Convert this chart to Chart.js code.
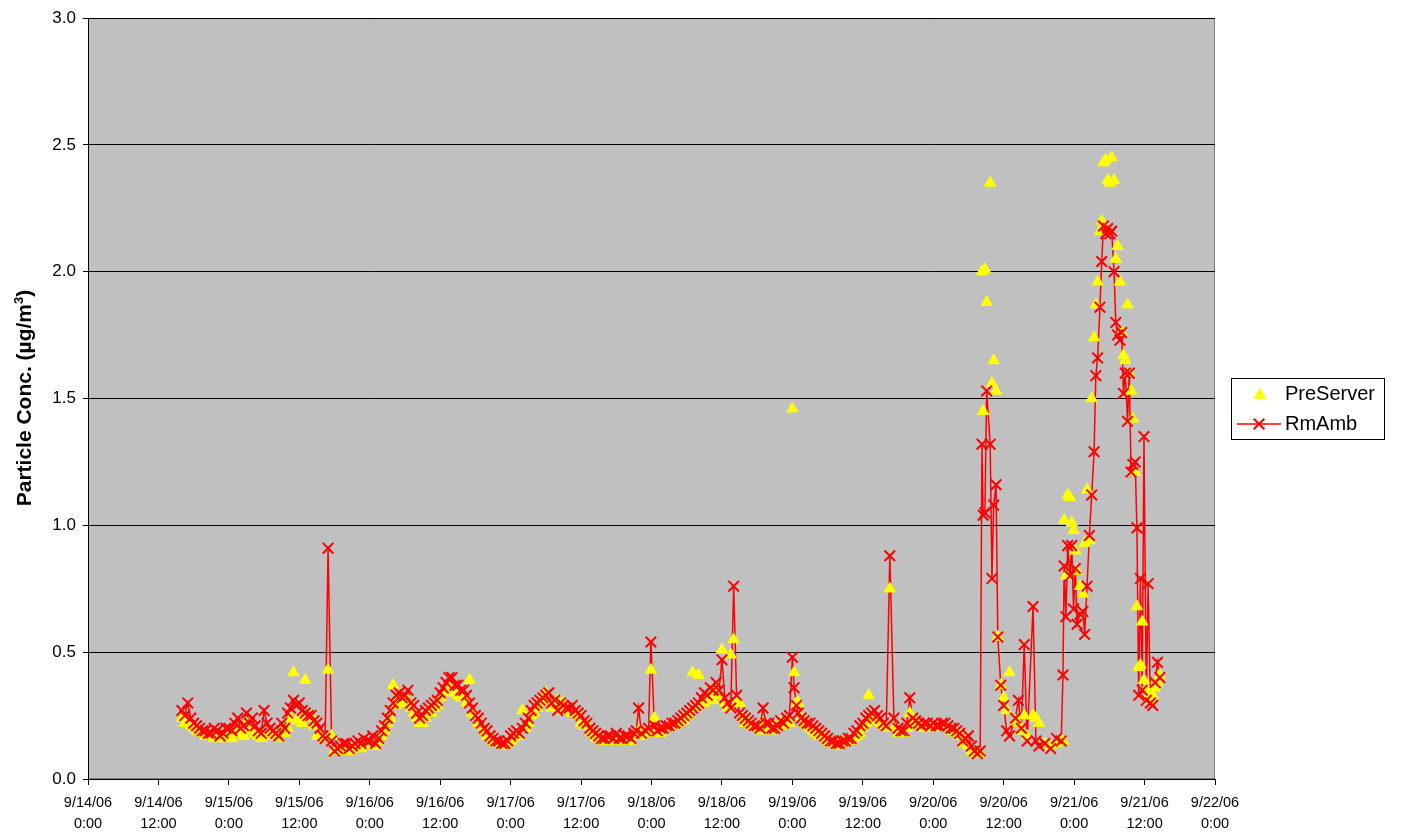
<!DOCTYPE html>
<html lang="en">
<head>
  <meta charset="UTF-8">
  <title>Particle Conc.</title>
  <script src="https://cdn.jsdelivr.net/npm/chart.js"></script>
  <style>
    html, body { margin: 0; padding: 0; background: #fff; }
    #wrap { width: 1403px; height: 834px; }
  </style>
</head>
<body>
  <div id="wrap"><canvas id="myChart" width="1403" height="834"></canvas></div>

  <script>
    // hours since 9/14/06 0:00
    const hours = [
      16, 16.5, 17, 17.5, 18, 18.5, 19, 19.5, 20, 20.5, 21, 21.5,
      22, 22.5, 23, 23.5, 24, 24.5, 25, 25.5, 26, 26.5, 27, 27.5,
      28, 28.5, 29, 29.5, 30, 30.5, 31, 31.5, 32, 32.5, 33, 33.5,
      34, 34.5, 35, 35.5, 36, 36.5, 37, 37.5, 38, 38.5, 39, 39.5,
      40, 40.4, 40.9, 41.5,
      42, 42.5, 43, 43.5, 44, 44.5, 45, 45.5, 46, 46.5, 47, 47.5,
      48, 48.5, 49, 49.5, 50, 50.5, 51, 51.5, 52, 52.5, 53, 53.5,
      54, 54.5, 55, 55.5, 56, 56.5, 57, 57.5, 58, 58.5, 59, 59.5,
      60, 60.5, 61, 61.5, 62, 62.5, 63, 63.5, 64, 64.5, 65, 65.5,
      66, 66.5, 67, 67.5, 68, 68.5, 69, 69.5, 70, 70.5, 71, 71.5,
      72, 72.5, 73, 73.5, 74, 74.5, 75, 75.5, 76, 76.5, 77, 77.5,
      78, 78.5, 79, 79.5, 80, 80.5, 81, 81.5, 82, 82.5, 83, 83.5,
      84, 84.5, 85, 85.5, 86, 86.5, 87, 87.5, 88, 88.5, 89, 89.5,
      90, 90.5, 91, 91.5, 92, 92.5, 93, 93.4, 93.8, 94.3, 95, 95.5,
      95.9, 96.5, 97, 97.5, 98, 98.5, 99, 99.5, 100, 100.5, 101, 101.5,
      102, 102.5, 103, 103.5, 104, 104.5, 105, 105.5, 106, 106.5, 107, 107.5,
      108, 108.5, 109, 109.5, 110, 110.5, 111, 111.5, 112, 112.5, 113, 113.5,
      114, 114.5, 115, 115.5, 116, 116.5, 117, 117.5, 118, 118.5, 119, 119.5,
      120, 120.3, 120.7, 121, 121.5, 122, 122.5, 123, 123.5, 124, 124.5, 125,
      125.5, 126, 126.5, 127, 127.5, 128, 128.5, 129, 129.5, 130, 130.5, 131,
      131.5, 132, 132.5, 133, 133.5, 134, 134.5, 135, 135.5, 136, 136.6, 137.3,
      138, 138.5, 139, 139.5, 140, 140.5, 141, 141.5, 142, 142.5, 143, 143.5,
      144, 144.5, 145, 145.5, 146, 146.5, 147, 147.5, 148, 148.5, 149, 149.5,
      150, 150.5, 151, 151.5, 152,
      152.3, 152.5, 152.8, 153.1, 153.7, 154.0, 154.3, 154.7, 155.0, 155.5, 156, 156.5, 157,
      158, 158.5, 159, 159.5, 160, 161, 161.5, 162, 163, 164, 165, 165.8, 166.1, 166.3, 166.6, 166.9, 167.3, 167.6, 167.9,
      168.2, 168.5, 169.0, 169.5, 169.8, 170.2, 170.6, 171.0, 171.4, 171.7, 172.0, 172.4, 172.7, 173.0, 173.4, 173.7, 174.1, 174.4, 174.8,
      175.1, 175.4, 175.8, 176.1, 176.4, 176.7, 177.1, 177.4, 177.7, 178.0, 178.4, 178.7, 179.0, 179.3, 179.6, 179.9,
      180.3, 180.6, 181.0, 181.4, 181.8, 182.2, 182.6
    ];

    const preServer = [
      .24, .22, .22, .21, .20, .19, .19, .18, .17, .17, .17, .16,
      .16, .16, .17, .17, .17, .16, .18, .18, .18, .17, .22, .19,
      .20, .18, .17, .16, .17, .17, .18, .17, .17, .16, .19, .18,
      .20, .24, .42, .23, .24, .22, .39, .24, .25, .21, .17, .17,
      .16, .16, .43, .17,
      .11, .11, .11, .12, .12, .11, .12, .12, .13, .12, .14, .13,
      .14, .14, .13, .15, .17, .19, .22, .24, .37, .29, .32, .30,
      .32, .31, .28, .26, .24, .22, .22, .24, .27, .26, .28, .29,
      .32, .34, .36, .37, .36, .34, .33, .32, .33, .30, .39, .26,
      .25, .22, .21, .19, .17, .16, .15, .14, .14, .13, .13, .14,
      .15, .16, .18, .17, .27, .20, .22, .25, .26, .28, .30, .31,
      .34, .31, .28, .29, .31, .27, .30, .27, .27, .26, .26, .25,
      .22, .21, .21, .19, .18, .16, .16, .15, .15, .15, .16, .15,
      .16, .15, .15, .16, .16, .15, .17, .17, .19, .17, .18, .18,
      .43, .24, .19, .18, .19, .20, .20, .21, .21, .22, .23, .23,
      .25, .26, .42, .28, .41, .30, .30, .31, .33, .31, .35, .33,
      .51, .30, .28, .49, .55, .30, .30, .24, .22, .22, .21, .20,
      .20, .19, .22, .20, .20, .19, .21, .20, .22, .21, .23, .22,
      1.46, .42, .30, .30, .24, .22, .21, .20, .19, .18, .17, .17,
      .16, .15, .14, .14, .13, .14, .14, .15, .15, .15, .16, .17,
      .18, .20, .22, .33, .24, .25, .23, .22, .21, .20, .75, .20,
      .18, .18, .18, .20, .26, .22, .22, .21, .20, .21, .21, .20,
      .20, .20, .20, .21, .21, .20, .19, .19, .18, .17, .14, .15,
      .13, .11, .10, .10, .10,
      2.00, 1.45, 2.01, 1.88, 2.35, 1.56, 1.65, 1.53, .56, .37, .32, .27, .42,
      .23, .22, .19, .25, .17, .25, .24, .22, .14, .13, .14, .15, .15, 1.02, .80, 1.12, 1.11, 1.01, .98,
      .90, .82, .76, .73, .93, 1.14, .94, 1.50, 1.74, 1.87, 1.96, 2.16, 2.20, 2.43, 2.44, 2.36, 2.35, 2.45, 2.36,
      2.05, 2.10, 1.96, 1.76, 1.67, 1.65, 1.87, 1.60, 1.53, 1.42, 1.21, .68, .44, .45, .62, .39,
      .36, .33, .31, .33, .36, .38, .41
    ];

    const rmAmb = [
      .27, .25, .30, .24, .22, .21, .20, .19, .19, .18, .18, .20,
      .19, .17, .18, .20, .20, .19, .22, .24, .20, .21, .26, .22,
      .24, .21, .19, .18, .27, .22, .20, .19, .18, .17, .22, .20,
      .26, .28, .31, .29, .30, .27, .26, .25, .25, .23, .22, .20,
      .17, .16, .91, .15,
      .11, .12, .13, .14, .14, .12, .13, .14, .15, .14, .16, .15,
      .15, .17, .14, .16, .19, .21, .24, .27, .30, .33, .34, .32,
      .33, .35, .30, .29, .26, .24, .25, .27, .28, .29, .30, .31,
      .34, .36, .38, .40, .40, .37, .37, .35, .35, .33, .30, .28,
      .25, .24, .22, .20, .19, .17, .16, .15, .15, .14, .14, .15,
      .17, .18, .19, .18, .20, .22, .24, .27, .29, .30, .31, .32,
      .33, .34, .30, .31, .27, .30, .29, .28, .28, .29, .27, .26,
      .25, .23, .22, .20, .19, .18, .17, .16, .16, .17, .17, .16,
      .18, .16, .16, .17, .17, .16, .18, .19, .28, .18, .19, .20,
      .54, .21, .19, .20, .20, .21, .21, .22, .22, .23, .24, .25,
      .26, .27, .28, .29, .30, .32, .34, .33, .36, .35, .38, .35,
      .47, .32, .30, .28, .76, .33, .26, .25, .24, .23, .22, .21,
      .21, .20, .28, .22, .22, .20, .20, .21, .23, .22, .24, .25,
      .48, .36, .29, .26, .24, .23, .22, .22, .21, .20, .19, .18,
      .17, .16, .15, .15, .14, .14, .15, .15, .16, .16, .18, .19,
      .21, .22, .24, .25, .26, .27, .25, .24, .22, .21, .88, .24,
      .20, .19, .19, .22, .32, .24, .23, .22, .21, .22, .22, .21,
      .22, .21, .21, .22, .22, .21, .20, .20, .19, .18, .15, .16,
      .17, .13, .11, .10, .11,
      1.32, 1.04, 1.05, 1.53, 1.32, .79, 1.08, 1.16, .56, .37, .29, .19, .17,
      .24, .31, .20, .53, .15, .68, .15, .13, .14, .12, .16, .15, .41, .84, .64, .92, .80, .92, .67,
      .83, .61, .65, .66, .57, .76, .96, 1.12, 1.29, 1.59, 1.66, 1.86, 2.04, 2.18, 2.15, 2.17, 2.15, 2.16, 2.00,
      1.80, 1.75, 1.73, 1.76, 1.52, 1.60, 1.41, 1.60, 1.21, 1.24, 1.25, .99, .33, .79, .35, 1.35,
      .31, .77, .30, .29, .38, .46, .40
    ];

    const dayLabels = ['9/14/06', '9/15/06', '9/16/06', '9/17/06', '9/18/06',
                       '9/19/06', '9/20/06', '9/21/06', '9/22/06'];
    const timeLabels = ['0:00', '12:00'];

    const FONT = "'Liberation Sans', Arial, sans-serif";

    const ptsPre = hours.map((h, i) => ({ x: h, y: preServer[i] }));
    const ptsRm = hours.map((h, i) => ({ x: h, y: rmAmb[i] }));

    // grey plot area like the excel chart
    const plotBg = {
      id: 'plotBg',
      beforeDraw(chart) {
        const { ctx, chartArea: a } = chart;
        ctx.save();
        ctx.fillStyle = '#c0c0c0';
        ctx.fillRect(a.left, a.top, a.width, a.height);
        ctx.strokeStyle = '#808080';
        ctx.lineWidth = 1;
        ctx.strokeRect(a.left + 0.5, a.top + 0.5, a.width - 1, a.height - 1);
        ctx.restore();
      }
    };

    // y title with a real superscript 3
    const yTitle = {
      id: 'yTitle',
      afterDraw(chart) {
        const ctx = chart.ctx;
        const big = 'bold 21px ' + FONT;
        const small = 'bold 13px ' + FONT;
        const p1 = 'Particle Conc. (µg/m', p2 = '3', p3 = ')';
        ctx.save();
        ctx.font = big;
        const w1 = ctx.measureText(p1).width, w3 = ctx.measureText(p3).width;
        ctx.font = small;
        const w2 = ctx.measureText(p2).width;
        const total = w1 + w2 + w3;
        ctx.translate(31, 398);
        ctx.rotate(-Math.PI / 2);
        ctx.fillStyle = '#000';
        ctx.textBaseline = 'alphabetic';
        let x = -total / 2;
        ctx.font = big;
        ctx.fillText(p1, x, 0);
        x += w1;
        ctx.font = small;
        ctx.fillText(p2, x, -8);
        x += w2;
        ctx.font = big;
        ctx.fillText(p3, x, 0);
        ctx.restore();
      }
    };

    // legend with a box, line+marker for RmAmb
    const boxLegend = {
      id: 'boxLegend',
      afterDraw(chart) {
        const ctx = chart.ctx;
        const bx = 1231, by = 378, bw = 153, bh = 61;
        ctx.save();
        ctx.fillStyle = '#ffffff';
        ctx.fillRect(bx, by, bw, bh);
        ctx.strokeStyle = '#000000';
        ctx.lineWidth = 1;
        ctx.strokeRect(bx + 0.5, by + 0.5, bw, bh);

        ctx.fillStyle = '#ffff00';
        ctx.strokeStyle = '#ffff00';
        Chart.helpers.drawPoint(ctx, {
          pointStyle: 'triangle', radius: 6.5, rotation: 0, borderWidth: 1
        }, 1260, 395);

        ctx.strokeStyle = '#ff0000';
        ctx.lineWidth = 1.5;
        ctx.beginPath();
        ctx.moveTo(1237, 424);
        ctx.lineTo(1281, 424);
        ctx.stroke();
        ctx.lineWidth = 2;
        Chart.helpers.drawPoint(ctx, {
          pointStyle: 'crossRot', radius: 7.5, rotation: 0, borderWidth: 2
        }, 1259, 424);

        ctx.fillStyle = '#000000';
        ctx.font = '20px ' + FONT;
        ctx.textBaseline = 'middle';
        ctx.fillText('PreServer', 1285, 394);
        ctx.fillText('RmAmb', 1285, 424);
        ctx.restore();
      }
    };

    const ctx = document.getElementById('myChart').getContext('2d');
    const myChart = new Chart(ctx, {
      type: 'scatter',
      data: {
        datasets: [
          {
            label: 'RmAmb line',
            data: ptsRm,
            showLine: true,
            borderColor: '#ff0000',
            borderWidth: 1.5,
            pointRadius: 0,
            order: 3
          },
          {
            label: 'PreServer',
            data: ptsPre,
            pointStyle: 'triangle',
            pointRadius: 6.5,
            backgroundColor: '#ffff00',
            borderColor: '#ffff00',
            borderWidth: 1,
            order: 2
          },
          {
            label: 'RmAmb',
            data: ptsRm,
            pointStyle: 'crossRot',
            pointRadius: 7.5,
            borderColor: '#ff0000',
            backgroundColor: '#ff0000',
            borderWidth: 2,
            order: 1
          }
        ]
      },
      options: {
        responsive: false,
        animation: false,
        events: [],
        layout: {
          padding: { left: 0, top: 18, right: 188, bottom: 0 }
        },
        plugins: {
          legend: { display: false },
          tooltip: { enabled: false }
        },
        scales: {
          x: {
            type: 'linear',
            min: 0,
            max: 192,
            afterFit: (s) => { s.height = 55; },
            afterBuildTicks: (s) => {
              s.ticks = [];
              for (let v = 0; v <= 192; v += 12) s.ticks.push({ value: v });
            },
            ticks: {
              autoSkip: false,
              maxRotation: 0,
              color: '#000',
              padding: 7,
              font: { family: FONT, size: 14.5, lineHeight: '21px' },
              callback: (v) => [dayLabels[Math.floor(v / 24)], timeLabels[(v % 24) / 12]]
            },
            grid: {
              drawOnChartArea: false,
              drawTicks: true,
              tickLength: 6,
              tickColor: '#000'
            },
            border: { color: '#000', width: 1 }
          },
          y: {
            min: 0,
            max: 3,
            afterFit: (s) => { s.width = 88; },
            ticks: {
              stepSize: 0.5,
              color: '#000',
              padding: 7,
              font: { family: FONT, size: 17 },
              callback: (v) => v.toFixed(1)
            },
            grid: {
              color: '#000',
              lineWidth: 1,
              drawTicks: true,
              tickLength: 5,
              tickColor: '#000'
            },
            border: { color: '#000', width: 1 }
          }
        }
      },
      plugins: [plotBg, yTitle, boxLegend]
    });
  </script>
</body>
</html>
